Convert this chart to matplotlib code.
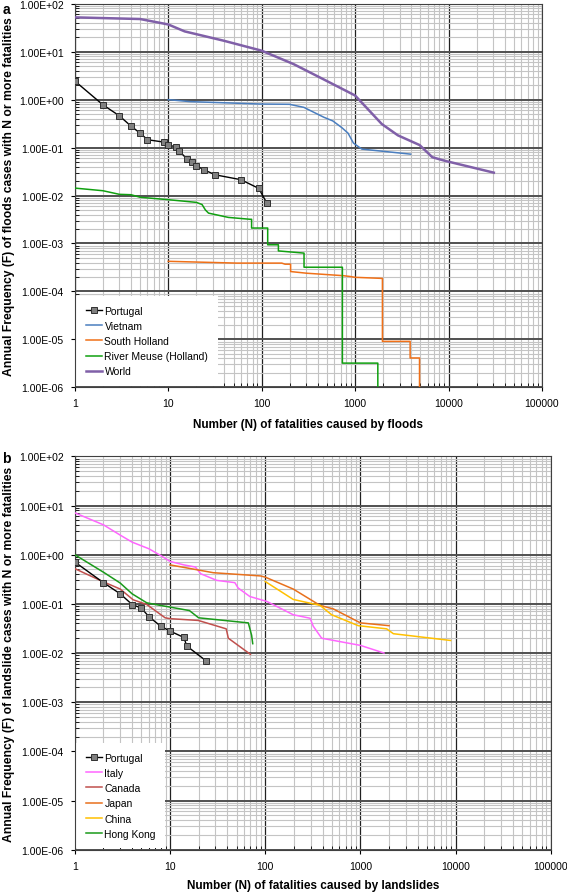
import numpy as np
import matplotlib
matplotlib.use("Agg")
import matplotlib.pyplot as plt
from matplotlib.ticker import FixedLocator, FuncFormatter, NullFormatter

plt.rcParams['font.family'] = ['Liberation Sans', 'DejaVu Sans']

# ---- (a) floods ----
pt_flood_n = [1, 2, 3, 4, 5, 6, 9, 10, 12, 13, 16, 18, 20, 24, 32, 60, 93, 113]
pt_flood_f = [2.45, 0.78, 0.46, 0.28, 0.20, 0.146, 0.13, 0.113, 0.104, 0.086,
              0.057, 0.049, 0.042, 0.0345, 0.027, 0.0214, 0.0141, 0.0071]

vn_n = [10, 17, 97, 198, 283, 462, 577, 722, 840, 960, 1180, 3930]
vn_f = [1.0, 0.91, 0.81, 0.80, 0.69, 0.43, 0.36, 0.26, 0.20, 0.124, 0.093, 0.073]

sh_n = [10, 54, 164, 178, 204, 204, 302, 750, 885, 1000, 1960, 1960, 3880, 3880, 4890, 4890]
sh_f = [4.25e-4, 3.9e-4, 3.9e-4, 3.7e-4, 3.7e-4, 2.6e-4, 2.4e-4, 2.13e-4, 2.05e-4,
        1.97e-4, 1.87e-4, 9.1e-6, 9.1e-6, 4.1e-6, 4.1e-6, 1e-7]

rm_n = [1, 2, 3, 4, 5, 10, 20, 23, 25, 27, 44, 75, 78, 78, 116, 116, 151, 151,
        284, 284, 731, 731, 1750, 1750]
rm_f = [0.0143, 0.0126, 0.0106, 0.0104, 0.0092, 0.0082, 0.0072, 0.0065, 0.0050,
        0.0043, 0.0035, 0.0032, 0.0032, 0.0021, 0.0021, 0.00094, 0.00094, 0.0007,
        0.00063, 0.00032, 0.00032, 3.2e-6, 3.2e-6, 1e-7]

world_n = [1, 5, 10, 15, 39, 100, 220, 420, 1000, 1930, 2870, 4900, 6700, 9150, 30500]
world_f = [52, 48, 37, 26.5, 17, 10.5, 5.5, 2.9, 1.22, 0.31, 0.18, 0.113, 0.063, 0.053, 0.030]

# ---- (b) landslides ----
pt_land_n = [1, 2, 3, 4, 5, 6, 8, 10, 14, 15, 24]
pt_land_f = [0.71, 0.27, 0.16, 0.097, 0.082, 0.055, 0.035, 0.028, 0.0207, 0.0139, 0.0069]

it_n = [1, 2, 3, 4, 6, 8, 10, 14, 18.5, 21, 31, 48, 52, 69, 104, 197, 296, 320, 392, 1000, 1770]
it_f = [7.1, 4.05, 2.5, 1.8, 1.32, 0.96, 0.73, 0.62, 0.56, 0.41, 0.30, 0.27, 0.21,
        0.141, 0.112, 0.06, 0.051, 0.035, 0.020, 0.0143, 0.0100]

ca_n = [1, 2, 3, 4.1, 5.7, 8.9, 10, 19.8, 39, 41, 70]
ca_f = [0.52, 0.28, 0.20, 0.121, 0.097, 0.052, 0.050, 0.046, 0.031, 0.020, 0.0094]

jp_n = [10, 28.5, 89, 100, 197, 377, 519, 1000, 2000]
jp_f = [0.62, 0.43, 0.37, 0.35, 0.20, 0.093, 0.079, 0.041, 0.036]

cn_n = [100, 197, 377, 499, 950, 1890, 2220, 8870]
cn_f = [0.285, 0.123, 0.093, 0.060, 0.036, 0.031, 0.0247, 0.018]

hk_n = [1, 2, 3, 4, 5.7, 7.9, 10, 16, 20, 66.5, 72, 74]
hk_f = [1.0, 0.44, 0.265, 0.16, 0.105, 0.093, 0.086, 0.073, 0.052, 0.041, 0.023, 0.0155]

FS = 7.5

x_major = 10.0 ** np.arange(0, 6)
y_major = 10.0 ** np.arange(-6, 3)
x_minor = [m * d for d in x_major[:-1] for m in range(2, 10)]
y_minor = [m * d for d in y_major[:-1] for m in range(2, 10)]


def style_axes(ax, xlabel, ylabel, xpad):
    ax.set_xscale('log')
    ax.set_yscale('log')
    ax.set_xlim(1, 1e5)
    ax.set_ylim(1e-6, 1e2)
    ax.set_axisbelow(True)
    ax.xaxis.set_major_locator(FixedLocator(x_major))
    ax.yaxis.set_major_locator(FixedLocator(y_major))
    ax.xaxis.set_minor_locator(FixedLocator(x_minor))
    ax.yaxis.set_minor_locator(FixedLocator(y_minor))
    ax.xaxis.set_minor_formatter(NullFormatter())
    ax.yaxis.set_minor_formatter(NullFormatter())
    ax.xaxis.set_major_formatter(FuncFormatter(lambda v, p: f"{v:g}"))
    ax.yaxis.set_major_formatter(FuncFormatter(lambda v, p: f"{v:.2E}"))
    ax.grid(which='minor', color='#c4c4c4', lw=0.8)
    ax.xaxis.grid(which='major', color='#202020', lw=0.9)
    ax.yaxis.grid(which='major', color='#505050', lw=1.4)
    ax.tick_params(which='major', direction='out', length=3, labelsize=FS, pad=5)
    ax.tick_params(which='minor', direction='in', length=3)
    for s in ax.spines.values():
        s.set_color('#404040')
    ax.set_xlabel(xlabel, fontsize=8.5, fontweight='bold', labelpad=xpad)
    ax.set_ylabel(ylabel, fontsize=8.7, fontweight='bold', labelpad=3)


fig = plt.figure(figsize=(5.67, 8.95), dpi=100)
ax1 = fig.add_axes([0.1319, 0.5661, 0.824, 0.4286])
ax2 = fig.add_axes([0.1319, 0.0495, 0.8395, 0.4395])

ax1.plot(pt_flood_n, pt_flood_f, color='black', lw=1.0, marker='s', ms=4,
         mfc='#808080', mec='#303030', mew=0.7, label='Portugal', zorder=4)
ax1.plot(vn_n, vn_f, color='#4a7ebf', lw=1.1, label='Vietnam', zorder=3)
ax1.plot(sh_n, sh_f, color='#f07018', lw=1.1, label='South Holland', zorder=3)
ax1.plot(rm_n, rm_f, color='#10a010', lw=1.1, label='River Meuse (Holland)', zorder=3)
ax1.plot(world_n, world_f, color='#8060a8', lw=1.8, label='World', zorder=3)
style_axes(ax1, 'Number (N) of fatalities caused by floods',
           'Annual Frequency (F) of floods cases with N or more fatalities', 7)

ax2.plot(pt_land_n, pt_land_f, color='black', lw=1.0, marker='s', ms=4,
         mfc='#808080', mec='#303030', mew=0.7, label='Portugal', zorder=4)
ax2.plot(it_n, it_f, color='#ff66ff', lw=1.1, label='Italy', zorder=3)
ax2.plot(ca_n, ca_f, color='#c0504d', lw=1.1, label='Canada', zorder=3)
ax2.plot(jp_n, jp_f, color='#e8701c', lw=1.1, label='Japan', zorder=3)
ax2.plot(cn_n, cn_f, color='#ffc000', lw=1.1, label='China', zorder=3)
ax2.plot(hk_n, hk_f, color='#1a9a1a', lw=1.1, label='Hong Kong', zorder=3)
style_axes(ax2, 'Number (N) of fatalities caused by landslides',
           'Annual Frequency (F) of landslide cases with N or more fatalities', 6)

for ax in (ax1, ax2):
    leg = ax.legend(loc='lower left', fontsize=FS, frameon=True, fancybox=False,
                    facecolor='white', edgecolor='none', framealpha=1,
                    handlelength=1.6, handletextpad=0.2, labelspacing=0.5,
                    borderaxespad=0.15, borderpad=0.9)
    leg.set_zorder(2.4)

fig.text(0.004, 0.9965, 'a', fontsize=10, fontweight='bold', va='top')
fig.text(0.004, 0.4945, 'b', fontsize=10, fontweight='bold', va='top')

fig.savefig('out.png', dpi=100)
